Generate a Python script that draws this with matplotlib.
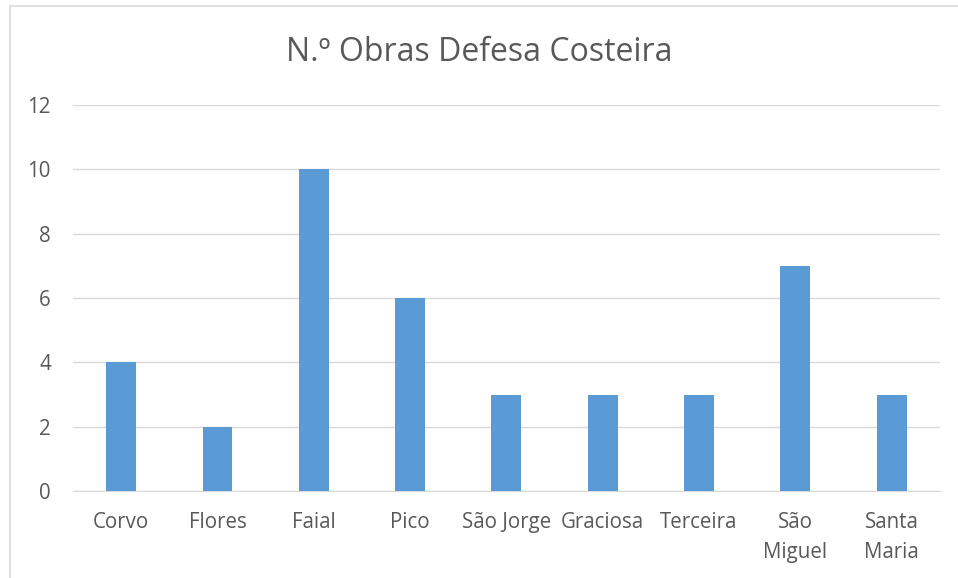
import matplotlib.pyplot as plt
from matplotlib.lines import Line2D

# island names and number of coastal defence works
islands = ["Corvo", "Flores", "Faial", "Pico", "São Jorge", "Graciosa",
           "Terceira", "São\nMiguel", "Santa\nMaria"]
obras = [4, 2, 10, 6, 3, 3, 3, 7, 3]
yticks = [0, 2, 4, 6, 8, 10, 12]

plt.rcParams['font.family'] = ['Open Sans', 'DejaVu Sans']

fig = plt.figure(figsize=(9.58, 5.78), dpi=100)
ax = fig.add_axes([0.0762, 0.1505, 0.9048, 0.6678])

ax.bar(range(len(islands)), obras, width=0.31, color='#5B9BD5', zorder=3)

ax.set_xlim(-0.5, len(islands) - 0.5)
ax.set_ylim(0, 12)
ax.set_yticks(yticks)
ax.set_xticks(range(len(islands)))
ax.set_xticklabels(islands, fontsize=14.8, color='#595959', linespacing=1.55,
                   va='top')
ax.tick_params(axis='y', labelsize=14.8, labelcolor='#595959', length=0, pad=16)
ax.tick_params(axis='x', length=0, pad=15)
ax.grid(axis='y', color='#D9D9D9', lw=1, zorder=0)
for s in ['top', 'right', 'left']:
    ax.spines[s].set_visible(False)
ax.spines['bottom'].set_color('#D9D9D9')

fig.text(0.5, 0.91, "N.º Obras Defesa Costeira", ha='center', va='center',
         fontsize=23, color='#595959')

# chart border (only left and top edges fall inside the picture)
W, H = 958, 578
fig.add_artist(Line2D([10 / W, 10 / W], [0, 1 - 6 / H], transform=fig.transFigure,
                      color='#D9D9D9', lw=1.2))
fig.add_artist(Line2D([10 / W, 1], [1 - 6 / H, 1 - 6 / H], transform=fig.transFigure,
                      color='#D9D9D9', lw=1.2))

fig.savefig("out.png", dpi=100)
